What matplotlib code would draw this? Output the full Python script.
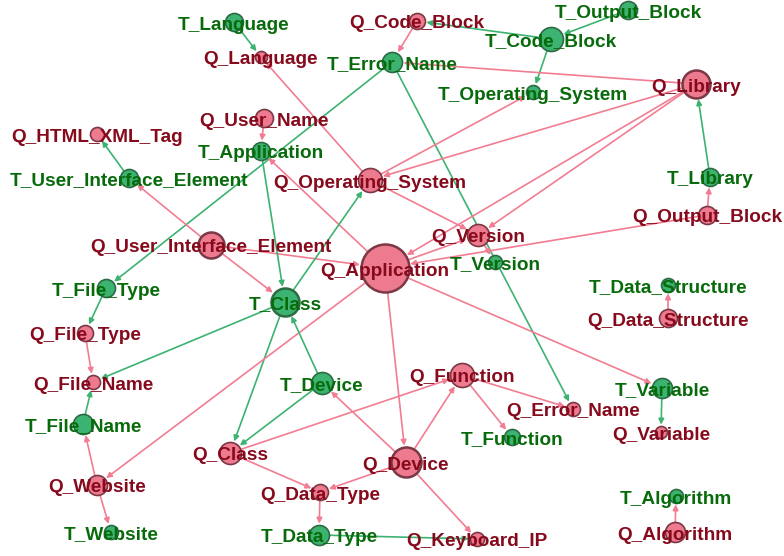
import matplotlib
matplotlib.use("Agg")
import matplotlib.pyplot as plt
from matplotlib.patches import FancyArrowPatch

# nodes: name -> (x, y) in pixel layout coordinates
nodes = ["Q_Code_Block", "Q_Language", "Q_Library", "Q_User_Name", "Q_HTML_XML_Tag",
         "Q_Operating_System", "Q_Output_Block", "Q_User_Interface_Element", "Q_Version",
         "Q_Application", "Q_File_Type", "Q_Data_Structure", "Q_File_Name", "Q_Function",
         "Q_Error_Name", "Q_Variable", "Q_Class", "Q_Device", "Q_Website", "Q_Data_Type",
         "Q_Keyboard_IP", "Q_Algorithm",
         "T_Language", "T_Output_Block", "T_Code_Block", "T_Error_Name", "T_Operating_System",
         "T_Application", "T_User_Interface_Element", "T_Library", "T_Version", "T_File_Type",
         "T_Class", "T_Data_Structure", "T_Device", "T_File_Name", "T_Variable", "T_Function",
         "T_Website", "T_Data_Type", "T_Algorithm"]

pos_x = [417, 261, 696, 264, 97, 370, 707, 211, 478, 385, 85, 668, 93, 462, 573, 661, 230, 406,
         97, 320, 477, 675,
         234, 628, 551, 392, 533, 261, 129, 710, 495, 106, 285, 668, 322, 83, 662, 512, 111, 319, 676]
pos_y = [21, 57, 84, 118, 134, 180, 215, 245, 235, 268, 333, 318, 382, 375, 409, 432, 453, 462,
         485, 492, 539, 532,
         22, 10, 39, 62, 92, 151, 178, 177, 262, 288, 302, 285, 383, 424, 388, 437, 532, 535, 496]
radius = [8, 6, 14, 9, 7, 12, 9, 13, 11, 24, 8, 9, 7, 12, 7, 6, 11, 15, 10, 8, 7, 10,
          9, 9, 12, 10, 7, 9, 9, 9, 7, 9, 14, 7, 11, 10, 10, 8, 7, 10, 7]

edges = [
    ("T_Language", "Q_Language"), ("T_Output_Block", "T_Code_Block"),
    ("T_Code_Block", "Q_Code_Block"), ("T_Code_Block", "T_Operating_System"),
    ("Q_Code_Block", "T_Error_Name"), ("Q_Library", "T_Error_Name"),
    ("T_Error_Name", "T_File_Type"), ("T_Error_Name", "Q_Error_Name"),
    ("Q_Operating_System", "Q_Language"), ("Q_Operating_System", "Q_Version"),
    ("Q_Operating_System", "T_Operating_System"), ("Q_Library", "Q_Operating_System"),
    ("Q_Library", "Q_Application"), ("Q_Library", "Q_Version"),
    ("T_Library", "Q_Library"), ("Q_Output_Block", "T_Library"),
    ("Q_Output_Block", "Q_Application"), ("Q_Application", "Q_Version"),
    ("Q_Version", "T_Version"), ("Q_User_Name", "T_Application"),
    ("T_User_Interface_Element", "Q_HTML_XML_Tag"),
    ("Q_User_Interface_Element", "T_User_Interface_Element"),
    ("Q_User_Interface_Element", "T_Class"), ("Q_User_Interface_Element", "Q_Application"),
    ("Q_Application", "T_Application"), ("T_Application", "T_Class"),
    ("T_Class", "Q_Operating_System"), ("T_Class", "Q_File_Name"), ("T_Class", "Q_Class"),
    ("T_File_Type", "Q_File_Type"), ("Q_File_Type", "Q_File_Name"),
    ("T_File_Name", "Q_File_Name"), ("Q_Website", "T_File_Name"), ("Q_Website", "T_Website"),
    ("Q_Application", "Q_Website"), ("Q_Application", "Q_Device"),
    ("Q_Application", "T_Variable"), ("T_Device", "T_Class"), ("T_Device", "Q_Class"),
    ("Q_Device", "T_Device"), ("Q_Device", "Q_Function"), ("Q_Device", "Q_Data_Type"),
    ("Q_Device", "Q_Keyboard_IP"), ("Q_Class", "Q_Function"), ("Q_Class", "Q_Data_Type"),
    ("Q_Data_Type", "T_Data_Type"), ("T_Data_Type", "Q_Keyboard_IP"),
    ("Q_Function", "T_Function"), ("Q_Function", "Q_Error_Name"),
    ("T_Variable", "Q_Variable"), ("Q_Data_Structure", "T_Data_Structure"),
    ("Q_Algorithm", "T_Algorithm"),
]

q_fill, q_edge, q_text, q_line = "#ee7a8f", "#7b3845", "#860a1c", "#f27d92"
t_fill, t_edge, t_text, t_line = "#3cb371", "#2d6b45", "#086b0b", "#3cb371"

fig = plt.figure(figsize=(7.84, 5.56), dpi=100)
ax = fig.add_axes([0, 0, 1, 1])
ax.set_xlim(0, 784)
ax.set_ylim(556, 0)
ax.axis("off")

idx = {n: i for i, n in enumerate(nodes)}
px2pt = 72 / 100

for s, t in edges:
    i, j = idx[s], idx[t]
    col = q_line if s.startswith("Q_") else t_line
    arr = FancyArrowPatch((pos_x[i], pos_y[i]), (pos_x[j], pos_y[j]),
                          arrowstyle="-|>", mutation_scale=8, lw=1.2, color=col,
                          shrinkA=radius[i] * px2pt, shrinkB=radius[j] * px2pt + 1,
                          zorder=1)
    ax.add_patch(arr)

for i, n in enumerate(nodes):
    is_q = n.startswith("Q_")
    ax.scatter(pos_x[i], pos_y[i], s=(2 * radius[i] * px2pt) ** 2,
               c=q_fill if is_q else t_fill,
               edgecolors=q_edge if is_q else t_edge,
               linewidths=1.8 if radius[i] > 12 else 1.2, zorder=2)
    ax.text(pos_x[i], pos_y[i] + 3, n, ha="center", va="center",
            fontsize=13.7, fontweight="bold", family="Liberation Sans",
            color=q_text if is_q else t_text, zorder=3)

fig.savefig("out.png", dpi=100)
